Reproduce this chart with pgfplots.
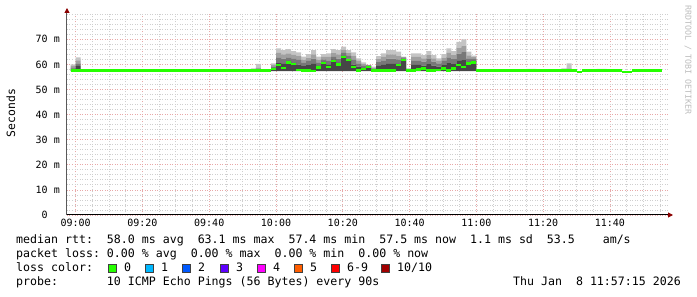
\documentclass[border=0pt]{standalone}
\usepackage{pgfplots}
\pgfplotsset{compat=1.18}
\usepackage{pgfplotstable}
\usetikzlibrary{arrows.meta}
\usepackage{fontspec}
\setmainfont{DejaVu Sans Mono}
\setmonofont{DejaVu Sans Mono}

\definecolor{smD}{HTML}{464646}
\definecolor{smM}{HTML}{787878}
\definecolor{smL}{HTML}{A0A0A0}
\definecolor{smT}{HTML}{C4C4C4}
\definecolor{medgreen}{HTML}{26FF00}
\definecolor{gridred}{HTML}{E8A8A8}
\definecolor{gridgray}{HTML}{CFCFCF}
\definecolor{arrowred}{HTML}{8B0000}
\definecolor{rrdgray}{HTML}{BDBDBD}
\definecolor{lc0}{HTML}{26FF00}
\definecolor{lc1}{HTML}{00B8FF}
\definecolor{lc2}{HTML}{0059FF}
\definecolor{lc3}{HTML}{5E00FF}
\definecolor{lc4}{HTML}{FF00FF}
\definecolor{lc5}{HTML}{FF5E00}
\definecolor{lc6}{HTML}{FF0000}
\definecolor{lc7}{HTML}{A10000}

\newcommand\legfont{\fontsize{11.6}{13}\selectfont}
\newcommand\tickfont{\fontsize{10}{11}\selectfont}

% smoke: t = step start (minutes after 09:00), lo < d < m < l < top (ms)
\pgfplotstableread{
t lo d m l top
-1.5 57.3 58.3 58.8 59.4 60.0
0.0 57.3 59.4 60.4 61.6 62.8
1.5 57.3 57.3 57.3 57.3 57.3
52.5 57.3 57.4 57.5 57.8 58.4
54.0 57.3 57.4 57.6 58.6 60.2
55.5 57.3 57.3 57.3 57.3 57.3
58.5 57.3 58.4 59.2 59.8 60.4
60.0 57.3 60.5 62.8 64.6 66.4
61.5 57.3 60.2 62.3 64.0 65.7
63.0 57.3 61.4 62.8 64.4 66.1
64.5 57.3 60.8 62.4 63.8 65.3
66.0 57.3 59.9 61.8 63.3 64.8
67.5 57.3 59.3 60.8 61.9 63.1
69.0 57.3 59.7 61.4 62.7 64.1
70.5 57.3 60.2 62.3 64.0 65.7
72.0 57.3 59.4 60.8 61.9 63.1
73.5 57.3 61.0 62.0 63.0 64.1
75.0 57.3 59.8 61.6 63.0 64.4
76.5 57.3 62.0 63.0 64.5 66.1
78.0 57.3 60.6 62.3 64.0 65.7
79.5 57.3 63.6 64.6 65.8 67.1
81.0 57.3 62.3 63.4 64.5 65.7
82.5 57.3 59.9 61.8 63.3 64.8
84.0 57.3 59.1 60.4 61.4 62.4
85.5 57.3 58.8 59.4 60.1 60.8
87.0 57.3 59.5 59.6 59.7 59.8
88.5 57.3 57.9 58.4 58.7 59.1
90.0 57.3 59.4 60.9 62.1 63.3
91.5 57.3 59.8 61.6 63.0 64.4
93.0 57.3 60.2 62.3 64.0 65.7
94.5 57.3 60.2 62.3 64.0 65.7
96.0 57.3 60.4 62.0 63.5 65.1
97.5 57.3 62.3 62.6 62.9 63.1
99.0 57.3 57.7 58.0 58.2 58.4
100.5 57.3 59.8 61.6 63.0 64.4
102.0 57.3 59.8 61.6 63.0 64.4
103.5 57.3 59.5 61.1 62.4 63.7
105.0 57.3 60.1 62.1 63.7 65.3
106.5 57.3 59.5 61.1 62.4 63.7
108.0 57.3 59.1 60.4 61.4 62.4
109.5 57.3 59.7 61.4 62.7 64.1
111.0 57.3 60.5 62.8 64.6 66.4
112.5 57.3 60.1 62.1 63.7 65.3
114.0 57.3 61.4 64.3 66.7 69.0
115.5 57.3 61.7 64.9 67.5 70.0
117.0 57.3 61.0 62.2 63.6 65.1
118.5 57.3 61.4 62.2 62.9 63.5
120.0 57.3 57.3 57.3 57.3 57.3
135.0 57.3 57.4 57.5 57.7 58.2
136.5 57.3 57.4 57.5 57.7 58.2
138.0 57.3 57.3 57.3 57.3 57.3
145.5 57.3 57.4 57.5 57.8 58.4
147.0 57.3 57.4 57.6 58.4 60.4
148.5 57.3 57.3 57.3 57.3 57.3
156.0 57.3 57.4 57.5 57.7 58.2
157.5 57.3 57.4 57.5 57.7 58.2
159.0 57.3 57.3 57.3 57.3 57.3
175.5 57.3 57.3 57.3 57.3 57.3
}\smokedata

\pgfplotstableread{
t med
-1.5 57.6
58.5 58.2
60.0 59.8
61.5 58.7
63.0 60.8
64.5 60.2
66.0 57.8
67.5 57.6
70.5 57.5
72.0 58.8
73.5 60.6
75.0 59.1
76.5 61.4
78.0 60.0
79.5 63.1
81.0 61.8
82.5 59.0
84.0 57.6
85.5 58.3
87.0 59.1
88.5 57.6
96.0 59.8
97.5 61.8
99.0 57.6
102.0 58.0
103.5 58.4
105.0 57.6
108.0 57.7
109.5 58.4
111.0 57.6
112.5 58.4
114.0 59.8
115.5 59.0
117.0 60.4
118.5 60.8
120.0 57.6
150.0 57.1
151.5 57.6
163.5 57.1
166.5 57.6
175.5 57.6
}\mediandata

\pgfplotsset{
  geom/.style={
    at={(67pt,82pt)}, anchor=south west,
    scale only axis, width=601pt, height=202pt,
    xmin=-2.6, xmax=177.4, ymin=0, ymax=80.5,
  }
}

\begin{document}
\begin{tikzpicture}[x=1pt,y=1pt]
\useasboundingbox (0,0) rectangle (697,297);
\begin{axis}[
  geom,
  stack plots=y,
  axis x line*=bottom, axis y line*=left,
  x axis line style={draw=black, line width=1pt, shorten >=-5pt,
    -{Triangle[length=5pt,width=5pt,color=arrowred]}},
  y axis line style={draw=black!65, line width=1pt, shorten >=-5pt,
    -{Triangle[length=5pt,width=5pt,color=arrowred]}},
  xtick={0,20,...,160},
  xticklabels={09:00,09:20,09:40,10:00,10:20,10:40,11:00,11:20,11:40},
  minor xtick={5,10,15,25,30,35,45,50,55,65,70,75,85,90,95,105,110,115,125,130,135,145,150,155,165,170,175},
  ytick={0,10,...,70},
  yticklabels={0\hphantom{~m},10~m,20~m,30~m,40~m,50~m,60~m,70~m},
  minor ytick={2,4,6,8,12,14,16,18,22,24,26,28,32,34,36,38,42,44,46,48,52,54,56,58,62,64,66,68,72,74,76,78,80},
  grid=both,
  major grid style={draw=gridred, line width=0.8pt, dash pattern=on 1pt off 1.5pt},
  minor grid style={draw=gridgray, line width=0.8pt, dash pattern=on 1pt off 1.5pt},
  major tick length=0pt, minor tick length=0pt,
  tick label style={font=\tickfont, text=black},
  xticklabel style={anchor=base, inner sep=0pt, yshift=-11.5pt},
  yticklabel style={anchor=east, inner sep=0pt, xshift=-7pt},
]
\addplot[draw=none, const plot] table[x=t, y=lo]{\smokedata};
\addplot[fill=smD, draw=none, const plot] table[x=t, y expr=\thisrow{d}-\thisrow{lo}]{\smokedata} \closedcycle;
\addplot[fill=smM, draw=none, const plot] table[x=t, y expr=\thisrow{m}-\thisrow{d}]{\smokedata} \closedcycle;
\addplot[fill=smL, draw=none, const plot] table[x=t, y expr=\thisrow{l}-\thisrow{m}]{\smokedata} \closedcycle;
\addplot[fill=smT, draw=none, const plot] table[x=t, y expr=\thisrow{top}-\thisrow{l}]{\smokedata} \closedcycle;
\end{axis}
\begin{axis}[geom, hide axis]
\addplot[jump mark left, draw=medgreen, line width=2.2pt, mark=none] table[x=t,y=med]{\mediandata};
\end{axis}

\node[rotate=90, font=\fontsize{11.4}{12}\selectfont] at (11,184) {Seconds};
\node[rotate=-90, font=\fontsize{8.3}{9}\selectfont, text=rrdgray] at (688,237) {RRDTOOL / TOBI OETIKER};

\node[anchor=base west, inner sep=0pt, font=\legfont] at (16,53)
  {median~rtt:~~58.0~ms~avg~~63.1~ms~max~~57.4~ms~min~~57.5~ms~now~~1.1~ms~sd~~53.5~~~~am/s};
\node[anchor=base west, inner sep=0pt, font=\legfont] at (16,39)
  {packet~loss:~0.00~\%~avg~~0.00~\%~max~~0.00~\%~min~~0.00~\%~now};
\node[anchor=base west, inner sep=0pt, font=\legfont] at (16,25) {loss~color:};
\foreach \c/\xx/\lab in {lc0/108/0, lc1/145/1, lc2/182/2, lc3/220/3, lc4/257/4, lc5/294/5, lc6/331/{6-9}, lc7/381/{10/10}}{
  \filldraw[fill=\c, draw=black!75, line width=0.6pt] (\xx,24.5) rectangle ++(8,8);
  \node[anchor=base west, inner sep=0pt, font=\legfont] at (\xx+16,25) {\lab};
}
\node[anchor=base west, inner sep=0pt, font=\legfont] at (16,11)
  {probe:~~~~~~~10~ICMP~Echo~Pings~(56~Bytes)~every~90s};
\node[anchor=base east, inner sep=0pt, font=\legfont] at (681,11)
  {Thu~Jan~~8~11:57:15~2026};
\end{tikzpicture}
\end{document}
